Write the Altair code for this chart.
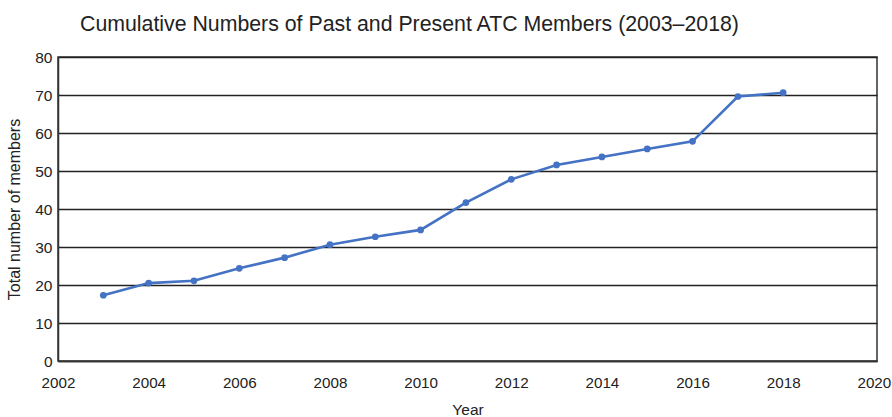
import altair as alt
import pandas as pd

years = [2003, 2004, 2005, 2006, 2007, 2008, 2009, 2010, 2011, 2012, 2013, 2014, 2015, 2016, 2017, 2018]
members = [17.3, 20.5, 21.1, 24.4, 27.2, 30.6, 32.7, 34.5, 41.7, 47.8, 51.6, 53.7, 55.8, 57.8, 69.6, 70.6]
x_ticks = list(range(2002, 2021, 2))
y_ticks = list(range(0, 81, 10))

df = pd.DataFrame({"Year": years, "Members": members})

FONT = "Liberation Sans"
BLUE = "#4472C4"

x = alt.X("Year:Q", title="Year",
          scale=alt.Scale(domain=[2002, 2020.07], nice=False, zero=False),
          axis=alt.Axis(values=x_ticks, format="d", grid=False,
                        ticks=False, domainColor="#333333", domainWidth=1.5,
                        labelFlush=False,
                        labelFontSize=15.2, labelPadding=14, labelColor="#222222",
                        labelFont=FONT, titleFont=FONT, titleFontSize=15.5,
                        titleFontWeight="normal", titleColor="#222222", titlePadding=12))
y = alt.Y("Members:Q", title="Total number of members",
          scale=alt.Scale(domain=[0, 80], nice=False),
          axis=alt.Axis(values=y_ticks, grid=True, gridColor="#222222",
                        gridWidth=1.3, ticks=False, domainColor="#333333", domainWidth=1.5,
                        labelFlush=False,
                        labelFontSize=15.5, labelPadding=6, labelColor="#222222",
                        labelFont=FONT, titleFont=FONT, titleFontSize=16,
                        titleFontWeight="normal", titleColor="#222222", titlePadding=12))

line = alt.Chart(df).mark_line(color=BLUE, strokeWidth=2.6).encode(x=x, y=y)
pts = alt.Chart(df).mark_point(color=BLUE, filled=True, opacity=1, size=45).encode(x=x, y=y)

chart = (line + pts).properties(
    width=819, height=304,
    autosize=alt.AutoSizeParams(type="none"),
    padding={"left": 58, "top": 57, "right": 15, "bottom": 56},
    title=alt.TitleParams(
        "Cumulative Numbers of Past and Present ATC Members (2003\u20132018)",
        anchor="start", frame="group", dx=22, offset=15, font=FONT, fontSize=21.3,
        fontWeight="normal", color="#222222"),
).configure_view(stroke="#333333", strokeWidth=1.5)

chart.save("out.html", embed_options={"renderer": "svg", "actions": False})
